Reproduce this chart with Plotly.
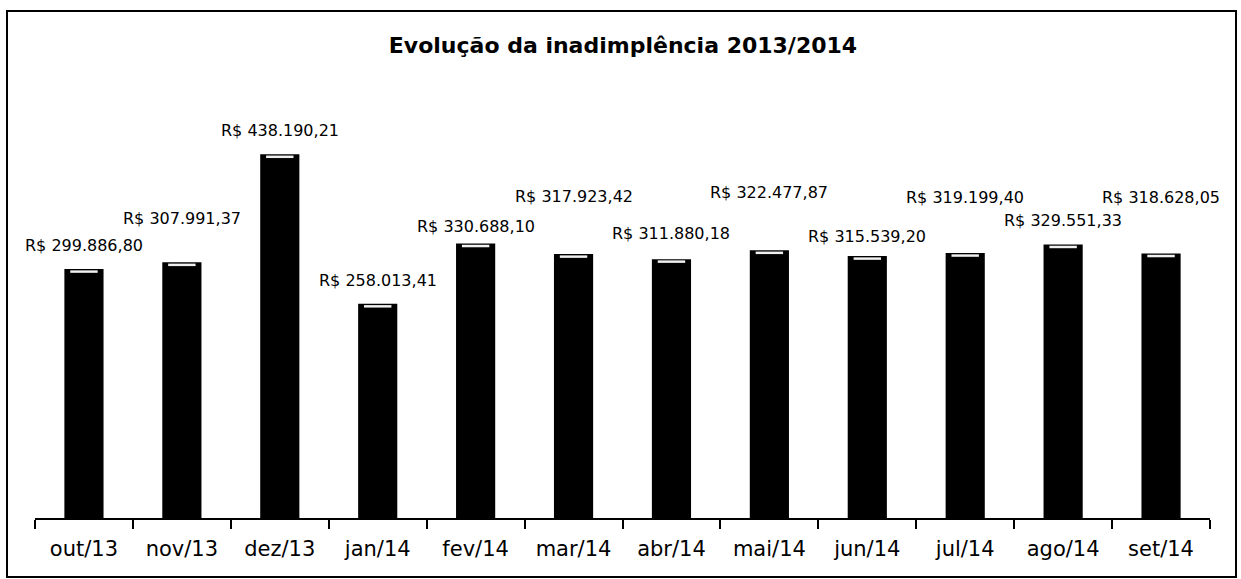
import plotly.graph_objects as go

# Monthly default amounts (R$)
months = ["out/13", "nov/13", "dez/13", "jan/14", "fev/14", "mar/14",
          "abr/14", "mai/14", "jun/14", "jul/14", "ago/14", "set/14"]
values = [299886.80, 307991.37, 438190.21, 258013.41, 330688.10, 317923.42,
          311880.18, 322477.87, 315539.20, 319199.40, 329551.33, 318628.05]
# extra vertical lift (px) applied to some value labels
label_lift = [0, 20, 0, 0, -6, 34, 2, 34, -4, 32, 0, 33]


def brl(v):
    s = f"{v:,.2f}".replace(",", "X").replace(".", ",").replace("X", ".")
    return f"R$ {s}"


W, H = 1241, 579
ML, MR, MT, MB = 35, 31, 103, 61
pw, ph = W - ML - MR, H - MT - MB

font_family = "'DejaVu Sans', 'Open Sans', sans-serif"

fig = go.Figure()
fig.add_trace(go.Bar(
    x=months, y=values, width=0.4,
    marker=dict(color="#000000", line=dict(width=0)),
    hoverinfo="x+y",
))
# light bevel strip along the top of each bar
fig.add_trace(go.Bar(
    x=months, y=[3000] * len(values), base=[v - 4500 for v in values],
    width=0.28, marker=dict(color="#f0f0f0", line=dict(width=0)),
    hoverinfo="skip",
))

annotations = []
for m, v, lift in zip(months, values, label_lift):
    annotations.append(dict(
        x=m, y=v, xref="x", yref="y", text=brl(v), showarrow=False,
        yanchor="bottom", yshift=12 + lift,
        font=dict(family=font_family, size=16, color="#000000"),
    ))

# outer chart frame
fx0, fx1 = 7, 1236
fy0, fy1 = 11, 577
fig.add_shape(type="rect", xref="paper", yref="paper",
              x0=(fx0 - ML) / pw, x1=(fx1 - ML) / pw,
              y0=(H - MB - fy1) / ph, y1=(H - MB - fy0) / ph,
              line=dict(color="#000000", width=2), fillcolor="rgba(0,0,0,0)",
              layer="below")

fig.update_layout(
    width=W, height=H,
    margin=dict(l=ML, r=MR, t=MT, b=MB),
    paper_bgcolor="#ffffff", plot_bgcolor="#ffffff",
    title=dict(text="<b>Evolução da inadimplência 2013/2014</b>",
               x=0.502, xanchor="center", y=1 - 45 / H, yanchor="middle",
               font=dict(family=font_family, size=22, color="#000000")),
    showlegend=False,
    barmode="overlay",
    annotations=annotations,
    xaxis=dict(
        type="category", range=[-0.5, len(months) - 0.5],
        showline=True, linecolor="#000000", linewidth=2,
        ticks="outside", tickson="boundaries", ticklen=9, tickwidth=2,
        tickcolor="#000000", showgrid=False, automargin=False,
        ticklabelstandoff=11,
        tickfont=dict(family=font_family, size=21, color="#000000"),
    ),
    yaxis=dict(range=[0, 500000], visible=False, showgrid=False),
    bargap=0.6,
)

fig.write_html("out.html")
